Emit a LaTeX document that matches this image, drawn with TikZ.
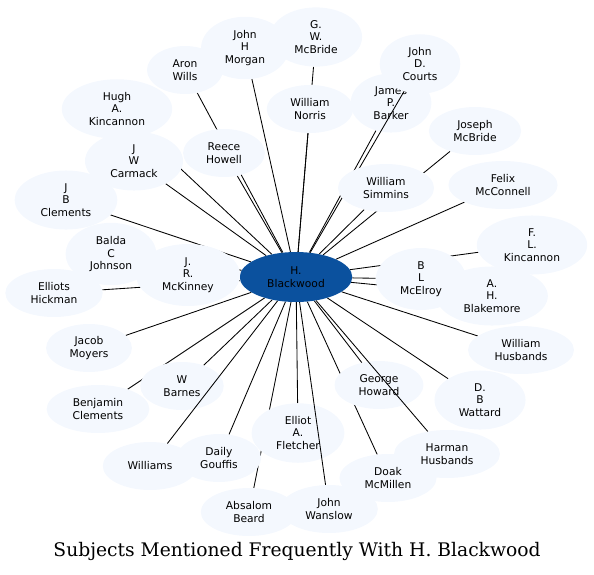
\documentclass[tikz,border=0pt]{standalone}
\usepackage{fontspec}
\usepackage{xcolor}
\usepackage{tikz}
\usetikzlibrary{shapes.geometric,backgrounds}
\newfontfamily\labelfont{DejaVu Sans}
\newfontfamily\titlefont{DejaVu Serif}
\definecolor{personfill}{RGB}{244,248,254}
\definecolor{hubfill}{RGB}{11,81,158}

\begin{document}
\begin{tikzpicture}[
		x=1pt, y=-1pt,
		person/.style={ellipse, fill=personfill, align=center, inner xsep=11pt, inner ysep=4.5pt,
				minimum width=76pt, minimum height=48pt,
				font=\labelfont\fontsize{10.7}{12.4}\selectfont},
		hub/.style={person, fill=hubfill, minimum height=50pt},
		link/.style={line width=0.85pt, black},
		caption/.style={font=\titlefont\fontsize{18.7}{22}\selectfont, anchor=base}]

		\useasboundingbox (0,0) rectangle (594,574);

		% -- centre --
		\node[hub] (hub) at (296,277) {H.\\Blackwood};

		% -- upper ring --
		\node[person] (morgan) at (245,48) {John\\H\\Morgan};
		\node[person] (gwmcbride) at (316,37) {G.\\W.\\McBride};
		\node[person] (wills) at (185,70) {Aron\\Wills};
		\node[person] (norris) at (310,109) {William\\Norris};
		\node[person] (barker) at (391,103) {James\\P.\\Barker};
		\node[person] (courts) at (420,64) {John\\D.\\Courts};
		\draw[link] (hub) -- (courts);
		\node[person] (hugh) at (117,109) {Hugh\\A.\\Kincannon};
		\node[person] (carmack) at (134,161) {J\\W\\Carmack};
		\node[person] (howell) at (224,153) {Reece\\Howell};
		\node[person] (jmcbride) at (475,131) {Joseph\\McBride};
		\node[person] (simmins) at (386,188) {William\\Simmins};
		\node[person] (mcconnell) at (503,185) {Felix\\McConnell};

		% -- left side --
		\node[person] (jbclem) at (66,200) {J\\B\\Clements};
		\node[person] (johnson) at (111,254) {Balda\\C\\Johnson};
		\node[person] (hickman) at (54,293) {Elliots\\Hickman};
		\node[person] (mckinney) at (188,275) {J.\\R.\\McKinney};
		\node[person] (moyers) at (89,348) {Jacob\\Moyers};

		% -- right side --
		\node[person] (flkinc) at (532,245) {F.\\L.\\Kincannon};
		\node[person] (blakemore) at (492,296) {A.\\H.\\Blakemore};
		\node[person] (mcelroy) at (421,279) {B\\L\\McElroy};
		\node[person] (whusbands) at (521,350) {William\\Husbands};

		% -- lower ring --
		\node[person] (barnes) at (182,386) {W\\Barnes};
		\node[person] (bclem) at (98,409) {Benjamin\\Clements};
		\node[person] (williams) at (150,466) {Williams};
		\draw[link] (hub) -- (williams);
		\node[person] (gouffis) at (219,458) {Daily\\Gouffis};
		\node[person] (beard) at (249,512) {Absalom\\Beard};
		\node[person] (fletcher) at (298,433) {Elliot\\A.\\Fletcher};
		\node[person] (wanslow) at (329,509) {John\\Wanslow};
		\draw[link] (hub) -- (wanslow);
		\node[person] (howard) at (379,385) {George\\Howard};
		\node[person] (mcmillen) at (388,478) {Doak\\McMillen};
		\node[person] (hhusbands) at (447,454) {Harman\\Husbands};
		\draw[link] (hub) -- (hhusbands);
		\node[person] (wattard) at (480,400) {D.\\B\\Wattard};

		% -- links under the nodes --
		\begin{pgfonlayer}{background}
			\draw[link] (hub) -- (gwmcbride);
			\draw[link] (hub) -- (morgan);
			\draw[link] (hub) -- (wills);
			\draw[link] (hub) -- (norris);
			\draw[link] (hub) -- (barker);
			\draw[link] (hub) -- (hugh);
			\draw[link] (hub) -- (carmack);
			\draw[link] (hub) -- (howell);
			\draw[link] (hub) -- (jmcbride);
			\draw[link] (hub) -- (simmins);
			\draw[link] (hub) -- (mcconnell);
			\draw[link] (hub) -- (jbclem);
			\draw[link] (hub) -- (johnson);
			\draw[link] (hub) -- (hickman);
			\draw[link] (hub) -- (mckinney);
			\draw[link] (hub) -- (moyers);
			\draw[link] (hub) -- (flkinc);
			\draw[link] (hub) -- (mcelroy);
			\draw[link] (hub) -- (blakemore);
			\draw[link] (hub) -- (whusbands);
			\draw[link] (hub) -- (barnes);
			\draw[link] (hub) -- (bclem);
			\draw[link] (hub) -- (gouffis);
			\draw[link] (hub) -- (beard);
			\draw[link] (hub) -- (fletcher);
			\draw[link] (hub) -- (howard);
			\draw[link] (hub) -- (wattard);
			\draw[link] (hub) -- (mcmillen);
		\end{pgfonlayer}

		% -- title --
		\node[caption] (title) at (297,556) {Subjects Mentioned Frequently With H. Blackwood};

	\end{tikzpicture}
\end{document}
